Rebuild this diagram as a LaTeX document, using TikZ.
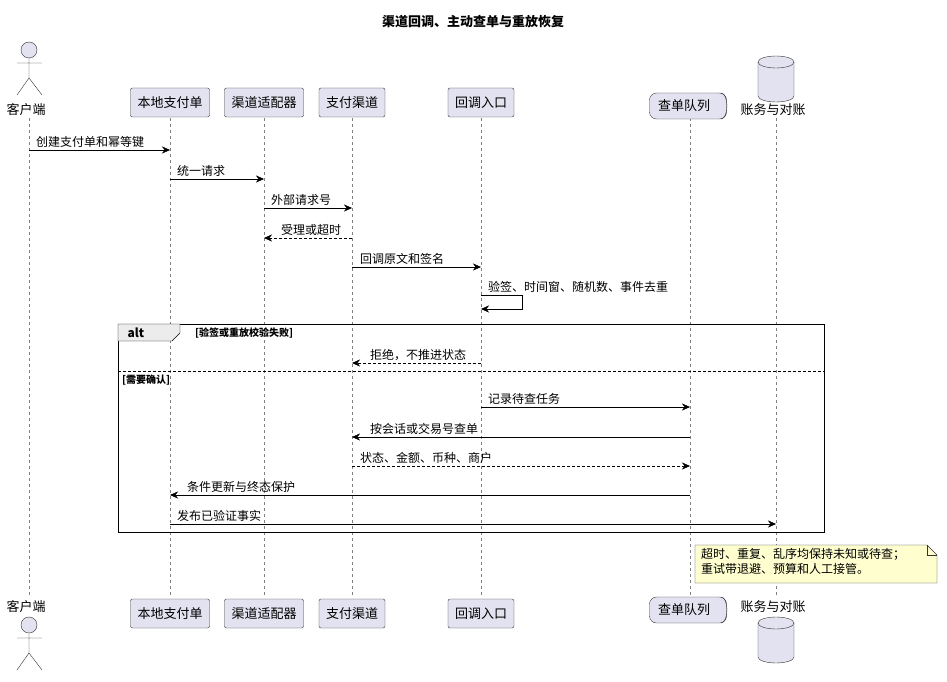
\documentclass[tikz,border=0pt]{standalone}
\usepackage{fontspec}
\setmainfont{Noto Sans CJK SC}
\usetikzlibrary{arrows.meta}
\definecolor{partfill}{HTML}{E2E2F0}
\definecolor{partline}{HTML}{333333}
\definecolor{notefill}{HTML}{FEFECE}
\begin{document}
\begin{tikzpicture}[
        x=1pt, y=-1pt,
        every node/.style={font=\fontsize{13}{15}\selectfont, inner sep=0pt},
        part/.style={draw=partline, fill=partfill, rounded corners=2pt, minimum height=29pt, inner xsep=7pt},
        life/.style={draw=gray, dashed, thin},
        msg/.style={draw, -{Stealth[length=8pt,width=7pt]}},
        reply/.style={msg, densely dashed},
        lbl/.style={anchor=south west, font=\fontsize{12}{14}\selectfont},
        cyl/.pic={
            \draw[partline, fill=partfill] (-18,-17) -- (-18,17) arc[x radius=18, y radius=6, start angle=180, end angle=0] -- (18,-17) arc[x radius=18, y radius=6, start angle=0, end angle=-180];
            \draw[partline] (-18,-17) arc[x radius=18, y radius=6, start angle=180, end angle=0];
        }
    ]
    \useasboundingbox (0,0) rectangle (947,682);

    % Title
    \node[font=\bfseries\fontsize{13}{15}\selectfont] (title) at (473,22) {渠道回调、主动查单与重放恢复};

    % Lifelines
    \foreach \x in {29,170,264,352,481,690,776}
        \draw[life] (\x,118) -- (\x,597);

    % Participants, top
    \node[part] (local) at (170,102.5) {本地支付单};
    \node[part] (adapter) at (264,102.5) {渠道适配器};
    \node[part] (channel) at (352,102.5) {支付渠道};
    \node[part] (cb) at (481,102.5) {回调入口};
    \node[draw=partline, fill=partfill, rounded corners=7pt, minimum width=77pt, minimum height=26pt] (queue) at (688,106) {};
    \draw[partline] (721,93) arc[x radius=6, y radius=13, start angle=-90, end angle=90];
    \node (queuet) at (684,106) {查单队列};
    \pic at (776,79) {cyl};
    \node (ledgert) at (773,110) {账务与对账};
    % actor
    \node[draw=partline, fill=partfill, circle, minimum size=16pt] (head) at (29,50) {};
    \draw[partline] (head.south) -- (29,78) (17,63) -- (42,63) (17,95) -- (29,78) -- (42,95);
    \node (client) at (26,110) {客户端};

    % Participants, bottom
    \node[part] (localb) at (170,613.5) {本地支付单};
    \node[part] (adapterb) at (264,613.5) {渠道适配器};
    \node[part] (channelb) at (352,613.5) {支付渠道};
    \node[part] (cbb) at (481,613.5) {回调入口};
    \node[draw=partline, fill=partfill, rounded corners=7pt, minimum width=77pt, minimum height=26pt] (queueb) at (688,610) {};
    \draw[partline] (721,597) arc[x radius=6, y radius=13, start angle=-90, end angle=90];
    \node (queuebt) at (684,610) {查单队列};
    \node (ledgerbt) at (773,607) {账务与对账};
    \pic at (776,640) {cyl};
    \node (clientb) at (26,607) {客户端};
    \node[draw=partline, fill=partfill, circle, minimum size=16pt] (headb) at (29,625) {};
    \draw[partline] (headb.south) -- (29,653) (17,638) -- (42,638) (17,670) -- (29,653) -- (42,670);

    % Messages
    \draw[msg] (29,150) -- (170,150) node[lbl] at (36,148) {创建支付单和幂等键};
    \draw[msg] (170,179) -- (264,179) node[lbl] at (177,177) {统一请求};
    \draw[msg] (264,208) -- (352,208) node[lbl] at (271,206) {外部请求号};
    \draw[reply] (352,238) -- (264,238) node[lbl] at (281,236) {受理或超时};
    \draw[msg] (352,267) -- (481,267) node[lbl] at (360,265) {回调原文和签名};
    \draw[msg] (481,295) -- (522,295) -- (522,309) -- (481,309);
    \node[lbl] (self) at (488,293) {验签、时间窗、随机数、事件去重};

    % alt fragment
    \draw[thick] (118,324) rectangle (824,532);
    \draw[fill=gray!15] (118,324) -- (180,324) -- (180,333) -- (172,341) -- (118,341) -- cycle;
    \node[font=\bfseries\fontsize{12}{14}\selectfont] (alt) at (136,333) {alt};
    \node[anchor=west, font=\bfseries\fontsize{10}{12}\selectfont] (c1) at (195,333) {[验签或重放校验失败]};
    \draw[densely dashed] (118,371) -- (824,371);
    \node[anchor=west, font=\bfseries\fontsize{10}{12}\selectfont] (c2) at (122,380) {[需要确认]};

    \draw[reply] (481,363) -- (352,363) node[lbl] at (370,361) {拒绝，不推进状态};
    \draw[msg] (481,407) -- (690,407) node[lbl] at (488,405) {记录待查任务};
    \draw[msg] (690,437) -- (352,437) node[lbl] at (370,435) {按会话或交易号查单};
    \draw[reply] (352,466) -- (690,466) node[lbl] at (360,464) {状态、金额、币种、商户};
    \draw[msg] (690,495) -- (170,495) node[lbl] at (187,493) {条件更新与终态保护};
    \draw[msg] (170,524) -- (776,524) node[lbl] at (177,522) {发布已验证事实};

    % Note
    \draw[partline, fill=notefill] (695,545) -- (927,545) -- (937,555) -- (937,583) -- (695,583) -- cycle;
    \draw[partline] (927,545) -- (927,555) -- (937,555);
    \node[anchor=north west, align=left, font=\fontsize{12}{15}\selectfont] (note) at (701,548) {超时、重复、乱序均保持未知或待查；\\重试带退避、预算和人工接管。};
\end{tikzpicture}
\end{document}
